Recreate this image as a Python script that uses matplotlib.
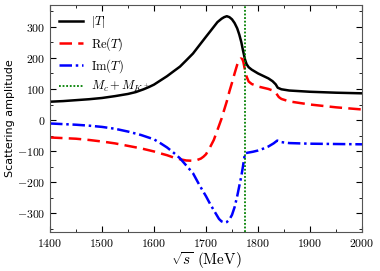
import matplotlib
matplotlib.use("Agg")
import matplotlib.pyplot as plt
from matplotlib.ticker import MultipleLocator

plt.rcParams['mathtext.fontset'] = 'cm'
plt.rcParams['font.family'] = 'serif'
plt.rcParams['font.serif'] = ['cmr10']
plt.rcParams['axes.formatter.use_mathtext'] = True

# |T|
E_abs = [1400, 1425, 1450, 1475, 1500, 1525, 1550, 1565, 1580, 1590, 1600, 1612, 1625,
         1637, 1650, 1662, 1675, 1687, 1700, 1708, 1715, 1722, 1730, 1735, 1740, 1745,
         1750, 1755, 1760, 1764, 1768, 1771, 1775, 1778, 1782, 1788, 1800, 1810, 1820,
         1828, 1834, 1838, 1845, 1860, 1880, 1900, 1950, 2000]
T_abs = [59, 61, 64, 67, 71, 77, 84, 90, 99, 106, 114, 127, 141,
         156, 172, 192, 214, 240, 268, 285, 300, 315, 326, 331, 334, 331,
         324, 312, 295, 275, 250, 225, 195, 180, 170, 162, 150, 142, 134,
         125, 115, 104, 99, 95, 93, 91, 88, 86]

# Re(T)
E_re = [1400, 1425, 1450, 1475, 1500, 1525, 1550, 1575, 1600, 1612, 1625, 1637, 1650,
        1662, 1675, 1682, 1690, 1695, 1700, 1707, 1715, 1722, 1730, 1735, 1740, 1745,
        1750, 1755, 1760, 1763, 1767, 1770, 1772, 1775, 1778, 1782, 1788, 1800, 1810,
        1820, 1830, 1835, 1840, 1845, 1860, 1880, 1900, 1950, 2000]
T_re = [-56, -58, -60, -64, -69, -75, -83, -91, -101, -107, -113, -120, -126,
        -130, -131, -129, -124, -118, -110, -90, -64, -32, 5, 33, 60, 92,
        120, 150, 178, 190, 198, 196, 186, 160, 140, 124, 116, 108, 104,
        100, 94, 86, 74, 68, 60, 55, 50, 41, 34]

# Im(T)
E_im = [1400, 1425, 1450, 1475, 1500, 1525, 1550, 1575, 1600, 1612, 1625, 1637, 1650,
        1662, 1675, 1687, 1700, 1708, 1715, 1725, 1730, 1736, 1740, 1745, 1750, 1755,
        1760, 1765, 1768, 1771, 1775, 1780, 1790, 1800, 1810, 1820, 1830, 1837, 1845,
        1860, 1900, 1950, 2000]
T_im = [-11, -13, -15, -18, -22, -28, -37, -48, -62, -74, -88, -104, -123,
        -146, -171, -208, -245, -270, -290, -318, -326, -330, -328, -320, -305, -280,
        -245, -204, -180, -150, -107, -105, -102, -98, -92, -85, -75, -66, -71,
        -74, -76, -77, -78]

threshold = 1775

fig = plt.figure(figsize=(3.8, 2.71), dpi=100)
ax = fig.add_axes([0.1316, 0.1439, 0.8210, 0.8376])

ax.plot(E_abs, T_abs, color='black', lw=1.8, ls='-', label=r'$|T|$')
ax.plot(E_re, T_re, color='red', lw=1.8, ls=(0, (5, 2.5)), label=r'$\mathrm{Re}(T)$')
ax.plot(E_im, T_im, color='blue', lw=1.8, ls=(0, (5, 1.5, 1, 1.5)), label=r'$\mathrm{Im}(T)$')
ax.axvline(threshold, color='green', lw=1.3, ls=(0, (1, 1)), label=r'$M_c+M_{K^+}$')

ax.set_xlim(1400, 2000)
ax.set_ylim(-360, 370)
ax.xaxis.set_major_locator(MultipleLocator(100))
ax.xaxis.set_minor_locator(MultipleLocator(50))
ax.yaxis.set_major_locator(MultipleLocator(100))
ax.yaxis.set_minor_locator(MultipleLocator(50))
ax.tick_params(which='both', direction='in', top=True, right=True, labelsize=8.5)
ax.tick_params(which='major', length=4, width=0.8)
ax.tick_params(which='minor', length=2, width=0.6)
for sp in ax.spines.values():
    sp.set_color('#555555')

ax.set_xlabel(r'$\sqrt{s}$ (MeV)', fontsize=11, labelpad=1)
ax.set_ylabel('Scattering amplitude', fontsize=8, family='DejaVu Sans', labelpad=1)

leg = ax.legend(loc='upper left', frameon=False, fontsize=9, handlelength=1.9,
                handletextpad=0.65, labelspacing=0.35, borderaxespad=0.35)

fig.savefig('out.png', dpi=100)
